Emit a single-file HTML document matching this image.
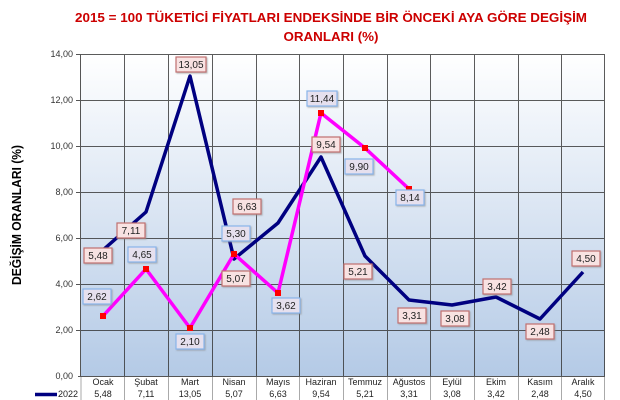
<!DOCTYPE html>
<html><head><meta charset="utf-8"><style>
html,body{margin:0;padding:0;background:#fff;}
svg{display:block;font-family:"Liberation Sans",sans-serif;}
</style></head><body>
<svg width="620" height="400" viewBox="0 0 620 400">
<defs>
<linearGradient id="bg" x1="0" y1="0" x2="0" y2="1">
<stop offset="0" stop-color="#ffffff"/><stop offset="1" stop-color="#b4cae6"/>
</linearGradient>
<filter id="sh" x="-20%" y="-20%" width="150%" height="160%"><feDropShadow dx="1" dy="1" stdDeviation="0.8" flood-color="#888" flood-opacity="0.6"/></filter>
</defs>
<text x="331" y="22" text-anchor="middle" font-size="12.5" font-weight="bold" fill="#cc0000" textLength="512" lengthAdjust="spacingAndGlyphs">2015 = 100 TÜKETİCİ FİYATLARI ENDEKSİNDE BİR ÖNCEKİ AYA GÖRE DEGİŞİM</text>
<text x="331" y="41" text-anchor="middle" font-size="12.5" font-weight="bold" fill="#cc0000" textLength="95" lengthAdjust="spacingAndGlyphs">ORANLARI (%)</text>
<text transform="translate(21,215) rotate(-90)" text-anchor="middle" font-size="12.5" font-weight="bold" fill="#000" textLength="140" lengthAdjust="spacingAndGlyphs">DEĞİŞİM ORANLARI (%)</text>
<rect x="81" y="54" width="524" height="322" fill="url(#bg)"/>
<g stroke="#333" stroke-width="1" opacity="0.8">
<line x1="81" y1="54.5" x2="605" y2="54.5"/><line x1="81" y1="100.5" x2="605" y2="100.5"/><line x1="81" y1="146.5" x2="605" y2="146.5"/><line x1="81" y1="192.5" x2="605" y2="192.5"/><line x1="81" y1="238.5" x2="605" y2="238.5"/><line x1="81" y1="284.5" x2="605" y2="284.5"/><line x1="81" y1="330.5" x2="605" y2="330.5"/>
<line x1="124.5" y1="54" x2="124.5" y2="376"/><line x1="168.5" y1="54" x2="168.5" y2="376"/><line x1="212.5" y1="54" x2="212.5" y2="376"/><line x1="256.5" y1="54" x2="256.5" y2="376"/><line x1="299.5" y1="54" x2="299.5" y2="376"/><line x1="343.5" y1="54" x2="343.5" y2="376"/><line x1="387.5" y1="54" x2="387.5" y2="376"/><line x1="430.5" y1="54" x2="430.5" y2="376"/><line x1="474.5" y1="54" x2="474.5" y2="376"/><line x1="518.5" y1="54" x2="518.5" y2="376"/><line x1="561.5" y1="54" x2="561.5" y2="376"/><line x1="604.5" y1="54" x2="604.5" y2="376"/>
</g>
<g stroke="#aaa" stroke-width="1">
<line x1="124.5" y1="376" x2="124.5" y2="400"/><line x1="168.5" y1="376" x2="168.5" y2="400"/><line x1="212.5" y1="376" x2="212.5" y2="400"/><line x1="256.5" y1="376" x2="256.5" y2="400"/><line x1="299.5" y1="376" x2="299.5" y2="400"/><line x1="343.5" y1="376" x2="343.5" y2="400"/><line x1="387.5" y1="376" x2="387.5" y2="400"/><line x1="430.5" y1="376" x2="430.5" y2="400"/><line x1="474.5" y1="376" x2="474.5" y2="400"/><line x1="518.5" y1="376" x2="518.5" y2="400"/><line x1="561.5" y1="376" x2="561.5" y2="400"/><line x1="604.5" y1="376" x2="604.5" y2="400"/><line x1="81" y1="376" x2="81" y2="400"/>
</g>
<g stroke="#555" stroke-width="1">
<line x1="80.5" y1="54" x2="80.5" y2="376"/><line x1="78" y1="376.5" x2="605" y2="376.5"/>
<line x1="76" y1="54.5" x2="81" y2="54.5"/><line x1="76" y1="100.5" x2="81" y2="100.5"/><line x1="76" y1="146.5" x2="81" y2="146.5"/><line x1="76" y1="192.5" x2="81" y2="192.5"/><line x1="76" y1="238.5" x2="81" y2="238.5"/><line x1="76" y1="284.5" x2="81" y2="284.5"/><line x1="76" y1="330.5" x2="81" y2="330.5"/>
</g>
<g font-size="9" fill="#333" text-anchor="end">
<text x="73" y="57">14,00</text><text x="73" y="103">12,00</text><text x="73" y="149">10,00</text><text x="73" y="195">8,00</text><text x="73" y="241">6,00</text><text x="73" y="287">4,00</text><text x="73" y="333">2,00</text><text x="73" y="379">0,00</text>
</g>
<polyline fill="none" stroke="#000080" stroke-width="3.5" stroke-linejoin="round" points="103,250 146,212 190,76 234,259 278,223 321,157 365,256 409,300 452,305 496,297 540,319 583,272"/>
<polyline fill="none" stroke="#ff00ff" stroke-width="3.5" stroke-linejoin="round" points="103,316 146,269 190,328 234,254 278,293 321,113 365,148 409,189"/>
<g fill="#ff0000">
<rect x="100" y="313" width="6" height="6"/><rect x="143" y="266" width="6" height="6"/><rect x="187" y="325" width="6" height="6"/><rect x="231" y="251" width="6" height="6"/><rect x="275" y="290" width="6" height="6"/><rect x="318" y="110" width="6" height="6"/><rect x="362" y="145" width="6" height="6"/><rect x="406" y="186" width="6" height="6"/>
</g>
<g font-size="10" fill="#222" text-anchor="middle">
<g fill="#f8e2e2" stroke="#c07070" stroke-width="1.2" filter="url(#sh)">
<rect x="84" y="248" width="28" height="15"/><rect x="117" y="223" width="28" height="15"/><rect x="176" y="57" width="30" height="15"/><rect x="222" y="271" width="28" height="15"/><rect x="233" y="199" width="28" height="15"/><rect x="312" y="137" width="28" height="15"/><rect x="344" y="264" width="28" height="15"/><rect x="398" y="308" width="28" height="15"/><rect x="441" y="311" width="28" height="15"/><rect x="483" y="279" width="28" height="15"/><rect x="526" y="324" width="28" height="15"/><rect x="572" y="251" width="28" height="15"/>
</g>
<g fill="#e6e0ee" stroke="#88b4ea" stroke-width="1.2" filter="url(#sh)">
<rect x="83" y="289" width="28" height="15"/><rect x="128" y="247" width="28" height="15"/><rect x="176" y="334" width="28" height="15"/><rect x="222" y="226" width="28" height="15"/><rect x="272" y="298" width="28" height="15"/><rect x="307" y="91" width="30" height="15"/><rect x="345" y="159" width="28" height="15"/><rect x="396" y="190" width="28" height="15"/>
</g>
<text x="98" y="259">5,48</text><text x="131" y="234">7,11</text><text x="191" y="68">13,05</text><text x="236" y="282">5,07</text><text x="247" y="210">6,63</text><text x="326" y="148">9,54</text><text x="358" y="275">5,21</text><text x="412" y="319">3,31</text><text x="455" y="322">3,08</text><text x="497" y="290">3,42</text><text x="540" y="335">2,48</text><text x="586" y="262">4,50</text>
<text x="97" y="300">2,62</text><text x="142" y="258">4,65</text><text x="190" y="345">2,10</text><text x="236" y="237">5,30</text><text x="286" y="309">3,62</text><text x="322" y="102">11,44</text><text x="359" y="170">9,90</text><text x="410" y="201">8,14</text>
</g>
<g font-size="9" fill="#222" text-anchor="middle">
<text x="103" y="385">Ocak</text><text x="146" y="385">Şubat</text><text x="190" y="385">Mart</text><text x="234" y="385">Nisan</text><text x="278" y="385">Mayıs</text><text x="321" y="385">Haziran</text><text x="365" y="385">Temmuz</text><text x="409" y="385">Ağustos</text><text x="452" y="385">Eylül</text><text x="496" y="385">Ekim</text><text x="540" y="385">Kasım</text><text x="583" y="385">Aralık</text>
<text x="103" y="397">5,48</text><text x="146" y="397">7,11</text><text x="190" y="397">13,05</text><text x="234" y="397">5,07</text><text x="278" y="397">6,63</text><text x="321" y="397">9,54</text><text x="365" y="397">5,21</text><text x="409" y="397">3,31</text><text x="452" y="397">3,08</text><text x="496" y="397">3,42</text><text x="540" y="397">2,48</text><text x="583" y="397">4,50</text>
<text x="68" y="397">2022</text>
</g>
<line x1="35" y1="394.5" x2="57" y2="394.5" stroke="#000080" stroke-width="3.5"/>
</svg>
</body></html>
